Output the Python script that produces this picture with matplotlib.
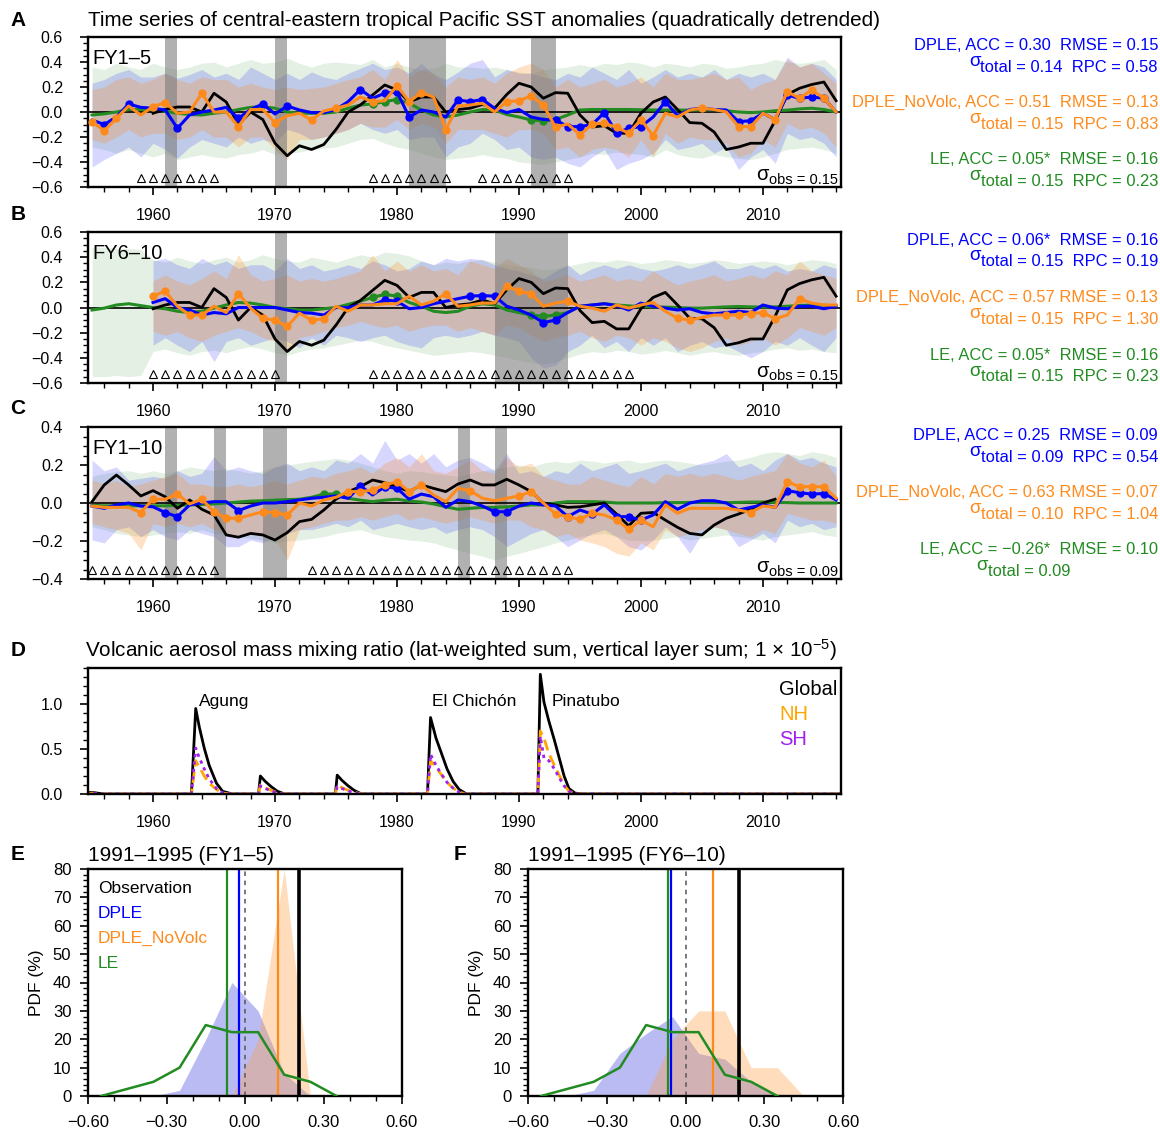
import numpy as np
import matplotlib
matplotlib.use('Agg')
import matplotlib.pyplot as plt
from matplotlib.ticker import MultipleLocator, FuncFormatter

plt.rcParams['font.family'] = ['Liberation Sans', 'DejaVu Sans']
plt.rcParams['mathtext.fontset'] = 'custom'
plt.rcParams['mathtext.rm'] = 'Liberation Sans'
plt.rcParams['mathtext.it'] = 'Liberation Sans:italic'

nan = np.nan
years = np.arange(1955, 2017)

# ---------------- Panel A (FY1-5) ----------------
obs_a = [nan,nan,nan,nan,nan, -0.01,0.02,0.04,0.04,0.0, 0.15,0.08,-0.10,0.0,-0.06,
         -0.25,-0.35,-0.27,-0.30,-0.26, -0.14,0.0,0.056,0.136,0.216, 0.176,0.08,0.12,0.12,0.0,
         0.02,0.03,0.06,0.03,0.14, 0.23,0.20,0.11,0.155,0.15, -0.024,-0.12,-0.11,-0.17,-0.17,
         -0.01,0.08,0.12,0.02,-0.085, -0.09,-0.16,-0.30,-0.28,-0.25, -0.25,-0.07,0.14,0.19,0.22,
         0.24,0.09]
dple_a = [-0.064,-0.10,-0.04,0.064,0.037, 0.03,0.016,-0.13,-0.024,0.0, 0.016,0.037,-0.05,0.02,0.064,
          -0.016,0.048,0.016,-0.005,-0.005, 0.02,0.083,0.18,0.11,0.15, 0.16,-0.04,0.016,0.0,-0.04,
          0.096,0.083,0.10,0.03,-0.005, 0.02,-0.04,-0.06,-0.064,-0.117, -0.117,-0.10,-0.005,-0.17,-0.13,
          -0.117,-0.04,0.083,-0.03,0.02, 0.03,0.02,0.016,-0.077,-0.07, -0.01,-0.06,0.136,0.11,0.12,
          0.11,0.0]
novolc_a = [-0.077,-0.15,-0.05,0.048,-0.024, 0.043,0.075,-0.01,0.0,0.15, 0.0,0.0,-0.117,0.02,0.02,
            -0.085,-0.03,-0.01,-0.064,0.008, 0.03,0.056,0.12,0.083,0.09, 0.21,0.083,0.155,0.12,-0.14,
            0.048,0.056,0.07,0.0,0.083, 0.09,0.128,0.056,-0.123,-0.096, -0.184,-0.096,-0.09,-0.123,-0.17,
            -0.06,-0.19,-0.01,-0.04,0.016, 0.03,0.02,0.0,-0.117,-0.117, -0.01,-0.06,0.163,0.11,0.176,
            0.11,0.0]
le_a = [-0.024,-0.015,0.0,0.02,0.02, 0.02,0.005,-0.01,-0.02,-0.024, -0.01,0.0,0.02,0.037,0.043,
        0.03,0.0,-0.01,-0.01,-0.01, 0.0,0.03,0.056,0.064,0.083, 0.10,0.07,0.016,-0.024,-0.04,
        -0.024,0.0,0.02,0.016,-0.02, -0.04,-0.064,-0.07,-0.06,-0.024, 0.016,0.02,0.02,0.02,0.02,
        0.018,0.016,0.016,0.015,0.015, 0.016,0.018,0.01,0.0,-0.005, 0.0,0.01,0.015,0.025,0.03,
        0.02,0.0]
dple_a_hi = [0.23,0.26,0.31,0.34,0.28, 0.28,0.31,0.27,0.30,0.34, 0.28,0.31,0.26,0.36,0.31,
             0.26,0.31,0.26,0.32,0.28, 0.26,0.31,0.35,0.39,0.34, 0.36,0.31,0.39,0.30,0.26,
             0.32,0.39,0.42,0.28,0.34, 0.31,0.31,0.28,0.26,0.31, 0.28,0.36,0.31,0.26,0.34,
             0.23,0.28,0.34,0.28,0.31, 0.28,0.34,0.26,0.31,0.28, 0.31,0.26,0.44,0.36,0.39, 0.36,0.26]
dple_a_lo = [-0.44,-0.38,-0.33,-0.28,-0.36, -0.25,-0.30,-0.37,-0.28,-0.22, -0.25,-0.28,-0.20,-0.25,-0.22,
             -0.25,-0.14,-0.17,-0.22,-0.20, -0.17,-0.14,-0.09,-0.14,-0.17, -0.14,-0.22,-0.20,-0.20,-0.36,
             -0.28,-0.25,-0.17,-0.22,-0.30, -0.28,-0.36,-0.38,-0.36,-0.41, -0.44,-0.36,-0.30,-0.46,-0.41,
             -0.38,-0.33,-0.22,-0.30,-0.28, -0.25,-0.33,-0.28,-0.46,-0.36, -0.30,-0.41,-0.17,-0.22,-0.20,
             -0.25,-0.36]
novolc_a_hi = [0.18,0.20,0.26,0.28,0.23, 0.26,0.31,0.26,0.23,0.28, 0.26,0.26,0.20,0.23,0.20,
               0.18,0.20,0.18,0.19,0.20, 0.23,0.26,0.28,0.34,0.26, 0.42,0.28,0.34,0.31,0.20,
               0.28,0.26,0.28,0.23,0.31, 0.36,0.39,0.34,0.20,0.26, 0.20,0.23,0.26,0.20,0.23,
               0.28,0.20,0.31,0.26,0.26, 0.28,0.31,0.26,0.28,0.18, 0.23,0.26,0.42,0.36,0.39, 0.31,0.23]
novolc_a_lo = [-0.22,-0.25,-0.20,-0.14,-0.20, -0.17,-0.17,-0.22,-0.20,-0.14, -0.20,-0.20,-0.28,-0.20,-0.20,
               -0.30,-0.38,-0.22,-0.22,-0.20, -0.17,-0.14,-0.09,-0.12,-0.12, -0.06,-0.14,-0.09,-0.12,-0.25,
               -0.14,-0.14,-0.14,-0.17,-0.20, -0.14,-0.14,-0.17,-0.30,-0.28, -0.36,-0.30,-0.28,-0.30,-0.36,
               -0.22,-0.36,-0.17,-0.25,-0.20, -0.22,-0.22,-0.25,-0.36,-0.33, -0.22,-0.28,-0.09,-0.14,-0.12,
               -0.17,-0.28]
le_a_hi = [0.36,0.34,0.39,0.36,0.34, 0.39,0.36,0.34,0.36,0.39, 0.40,0.36,0.39,0.42,0.39,
           0.40,0.43,0.39,0.36,0.39, 0.40,0.39,0.38,0.42,0.36, 0.39,0.36,0.34,0.35,0.39,
           0.36,0.36,0.35,0.36,0.34, 0.32,0.31,0.34,0.35,0.36, 0.38,0.36,0.39,0.38,0.40,
           0.39,0.36,0.39,0.38,0.36, 0.39,0.38,0.35,0.36,0.38, 0.39,0.42,0.40,0.39,0.40, 0.42,0.34]
le_a_lo = [-0.28,-0.30,-0.33,-0.30,-0.33, -0.36,-0.33,-0.38,-0.36,-0.34, -0.36,-0.37,-0.34,-0.33,-0.30,
           -0.34,-0.33,-0.32,-0.30,-0.29, -0.28,-0.25,-0.22,-0.21,-0.25, -0.28,-0.30,-0.33,-0.36,-0.38,
           -0.37,-0.36,-0.34,-0.36,-0.37, -0.40,-0.41,-0.42,-0.40,-0.38, -0.36,-0.33,-0.34,-0.32,-0.33,
           -0.34,-0.36,-0.30,-0.34,-0.36, -0.37,-0.34,-0.36,-0.37,-0.38, -0.36,-0.33,-0.30,-0.29,-0.28,
           -0.30,-0.33]
dple_a_dots = [1956, 1958, 1962, 1967, 1969, 1971, 1977, 1979, 1980, 1981, 1985, 1986, 1987, 1993,
               1994, 1995, 1997, 1998, 1999, 2000, 2002, 2008, 2009, 2012, 2013, 2014, 2015]
novolc_a_dots = [1955, 1956, 1957, 1960, 1961, 1964, 1967, 1970, 1973, 1975, 1978, 1980, 1981, 1982,
                 1984, 1989, 1990, 1991, 1992, 1993, 1995, 1996, 1997, 1998, 1999, 2000, 2001, 2005,
                 2008, 2009, 2011, 2012, 2013, 2014, 2015]
le_a_dots = [1978, 1979, 1980, 1991, 1992, 1993]
gray_a = [(1961, 1962), (1970, 1971), (1981, 1984), (1991, 1993)]
tri_a = list(range(1959, 1966)) + list(range(1978, 1985)) + list(range(1987, 1995))

# ---------------- Panel B (FY6-10) ----------------
obs_b = obs_a
dple_b = [nan,nan,nan,nan,nan, 0.04,0.07,0.0,-0.02,-0.06, -0.04,-0.05,0.0,0.0,0.0,
          0.0,-0.02,-0.04,-0.045,-0.06, 0.0,0.0,0.02,0.02,0.06, 0.05,-0.01,0.0,0.03,0.05,
          0.07,0.09,0.095,0.09,0.01, -0.02,-0.06,-0.12,-0.10,-0.04, 0.01,0.02,0.03,0.015,-0.02,
          0.035,0.01,-0.005,-0.02,-0.01, -0.04,-0.05,-0.04,-0.03,-0.04, 0.02,-0.005,-0.01,0.01,0.01,
          -0.01,0.01]
novolc_b = [nan,nan,nan,nan,nan, 0.09,0.13,0.01,-0.06,-0.06, 0.01,-0.04,0.11,-0.005,-0.085,
            -0.10,-0.15,-0.045,-0.10,-0.09, 0.01,-0.03,0.02,0.02,0.03, 0.03,0.09,0.02,0.05,0.11,
            0.01,0.02,0.035,0.035,0.17, 0.13,0.11,0.01,0.035,0.05, 0.01,-0.005,-0.03,0.02,-0.005,
            0.02,0.04,-0.03,-0.085,-0.10, -0.08,-0.06,-0.06,-0.06,-0.05, -0.04,-0.09,-0.06,0.07,0.035,
            0.02,0.02]
le_b = [-0.02,-0.005,0.02,0.03,0.015, 0.0,-0.01,-0.03,-0.04,-0.03, -0.005,0.02,0.04,0.035,0.02,
        0.0,-0.01,-0.02,-0.02,-0.01, 0.0,0.025,0.05,0.08,0.105, 0.09,0.04,0.01,-0.03,-0.04,
        -0.03,0.01,0.03,0.02,-0.02, -0.04,-0.06,-0.07,-0.06,-0.04, 0.01,0.02,0.03,0.02,0.013,
        0.008,0.005,0.003,0.0,-0.005, -0.005,0.0,0.005,0.008,0.005, 0.003,0.005,0.01,0.016,0.02,
        0.018,0.01]
dple_b_hi = [nan,nan,nan,nan,nan, 0.37,0.39,0.34,0.31,0.39, 0.34,0.37,0.31,0.34,0.34,
             0.29,0.39,0.31,0.34,0.29, 0.31,0.34,0.31,0.37,0.34, 0.29,0.31,0.37,0.34,0.39,
             0.37,0.39,0.38,0.34,0.31, 0.29,0.26,0.23,0.29,0.34, 0.26,0.31,0.34,0.31,0.34,
             0.31,0.29,0.31,0.34,0.31, 0.34,0.37,0.31,0.31,0.34, 0.31,0.34,0.29,0.31,0.29, 0.34,0.31]
dple_b_lo = [nan,nan,nan,nan,nan, -0.30,-0.24,-0.30,-0.35,-0.27, -0.43,-0.27,-0.24,-0.30,-0.27,
             -0.24,-0.27,-0.32,-0.24,-0.30, -0.22,-0.24,-0.27,-0.24,-0.22, -0.27,-0.30,-0.32,-0.24,-0.22,
             -0.24,-0.22,-0.19,-0.22,-0.24, -0.27,-0.40,-0.48,-0.46,-0.35, -0.30,-0.22,-0.32,-0.27,-0.35,
             -0.24,-0.30,-0.24,-0.35,-0.30, -0.27,-0.32,-0.30,-0.35,-0.40, -0.35,-0.27,-0.30,-0.24,-0.30,
             -0.35,-0.24]
novolc_b_hi = [nan,nan,nan,nan,nan, 0.21,0.26,0.21,0.18,0.23, 0.29,0.23,0.42,0.26,0.21,
               0.23,0.26,0.21,0.23,0.21, 0.23,0.26,0.29,0.42,0.29, 0.37,0.29,0.34,0.29,0.31,
               0.26,0.37,0.34,0.31,0.39, 0.34,0.29,0.21,0.23,0.26, 0.21,0.23,0.26,0.21,0.23,
               0.21,0.29,0.23,0.18,0.21, 0.23,0.26,0.21,0.23,0.26, 0.23,0.29,0.26,0.37,0.29, 0.26,0.23]
novolc_b_lo = [nan,nan,nan,nan,nan, -0.19,-0.22,-0.19,-0.24,-0.27, -0.22,-0.19,-0.16,-0.19,-0.24,
               -0.27,-0.35,-0.24,-0.22,-0.19, -0.16,-0.14,-0.11,-0.14,-0.16, -0.14,-0.19,-0.16,-0.14,-0.14,
               -0.19,-0.16,-0.19,-0.22,-0.14, -0.16,-0.22,-0.27,-0.24,-0.22, -0.19,-0.24,-0.27,-0.22,-0.24,
               -0.30,-0.24,-0.27,-0.32,-0.35, -0.32,-0.27,-0.24,-0.30,-0.27, -0.24,-0.30,-0.24,-0.16,-0.19,
               -0.22,-0.16]
le_b_hi = [0.48,0.48,0.47,0.47,0.46, 0.38,0.36,0.40,0.37,0.35, 0.38,0.40,0.36,0.38,0.42,
           0.39,0.37,0.36,0.40,0.38, 0.36,0.39,0.42,0.40,0.44, 0.43,0.41,0.37,0.34,0.36,
           0.35,0.37,0.38,0.36,0.34, 0.33,0.32,0.30,0.31,0.33, 0.35,0.37,0.36,0.38,0.37,
           0.35,0.36,0.38,0.37,0.35, 0.36,0.38,0.37,0.35,0.36, 0.37,0.36,0.34,0.36,0.38, 0.37,0.35]
le_b_lo = [-0.55,-0.55,-0.54,-0.55,-0.54, -0.35,-0.33,-0.36,-0.38,-0.35, -0.34,-0.36,-0.33,-0.31,-0.33,
           -0.36,-0.38,-0.35,-0.33,-0.32, -0.30,-0.28,-0.26,-0.27,-0.30, -0.32,-0.34,-0.36,-0.38,-0.37,
           -0.36,-0.35,-0.36,-0.38,-0.40, -0.42,-0.44,-0.45,-0.43,-0.40, -0.37,-0.35,-0.36,-0.34,-0.35,
           -0.37,-0.36,-0.34,-0.36,-0.38, -0.36,-0.35,-0.37,-0.38,-0.36, -0.35,-0.33,-0.32,-0.34,-0.33,
           -0.35,-0.36]
dple_b_dots = [1979, 1980, 1986, 1987, 1988, 1992, 1993]
novolc_b_dots = [1960, 1961, 1963, 1964, 1967, 1969, 1970, 1971, 1973, 1974, 1984, 1989, 1990, 1991,
                 1994, 2003, 2004, 2007, 2008, 2009, 2010, 2011, 2013]
le_b_dots = [1978, 1979, 1980, 1991, 1992, 1993]
gray_b = [(1970, 1971), (1988, 1994)]
tri_b = list(range(1960, 1971)) + list(range(1978, 2000))

# ---------------- Panel C (FY1-10) ----------------
obs_c = [0.007,0.095,0.147,0.095,0.037, 0.065,0.033,-0.028,0.016,-0.033, -0.063,-0.168,-0.18,-0.16,-0.168,
         -0.195,-0.156,-0.098,-0.086,-0.037, 0.02,0.06,0.086,0.121,0.107, 0.086,0.06,0.095,0.077,0.06,
         0.10,0.121,0.095,0.095,0.125, 0.095,0.06,0.0,-0.01,-0.023, -0.02,-0.01,0.0,-0.058,-0.12,
         -0.054,-0.05,-0.09,-0.128,-0.16, -0.168,-0.116,-0.08,-0.058,-0.033, 0.0,0.02,nan,nan,nan,
         nan,nan]
dple_c = [-0.016,-0.028,-0.01,0.0,-0.016, -0.02,-0.05,-0.072,-0.01,0.0, 0.007,0.007,-0.04,-0.016,0.0,
          0.0,0.007,0.016,0.025,0.03, 0.037,0.025,0.09,0.042,0.086, 0.077,0.02,0.047,0.033,-0.023,
          0.016,0.007,-0.016,-0.046,-0.046, -0.016,0.0,-0.01,-0.016,-0.072, -0.037,-0.058,-0.01,-0.072,-0.072,
          -0.09,-0.063,0.007,-0.033,0.0, 0.012,0.012,0.0,-0.037,-0.023, -0.01,-0.023,0.065,0.054,0.047,
          0.05,0.016]
novolc_c = [-0.016,-0.023,-0.023,-0.023,-0.05, 0.02,0.02,0.047,-0.005,0.02, -0.046,-0.08,-0.08,-0.063,-0.046,
            -0.05,-0.063,0.0,-0.016,0.016, 0.03,0.06,0.06,0.068,0.095, 0.112,0.06,0.095,0.042,0.007,
            0.077,0.065,0.025,0.012,0.025, 0.037,0.06,0.0,-0.058,-0.072, -0.086,-0.054,-0.063,-0.09,-0.139,
            -0.09,-0.125,-0.01,-0.054,-0.028, -0.028,-0.028,-0.028,-0.037,-0.05, -0.016,-0.023,0.112,0.086,0.086,
            0.086,0.025]
le_c = [-0.012,-0.015,-0.015,-0.015,-0.015, -0.015,-0.015,-0.012,-0.01,-0.008, -0.005,0.0,0.005,0.01,0.012,
        0.015,0.018,0.02,0.03,0.047, 0.047,0.025,0.015,0.007,0.015, 0.02,0.01,0.005,-0.005,-0.02,
        -0.033,-0.028,-0.023,-0.023,-0.02, -0.016,-0.01,-0.01,0.0,0.007, 0.007,0.007,0.005,0.0,0.0,
        0.0,0.0,0.002,0.002,0.003, 0.003,0.002,0.002,0.003,0.005, 0.005,0.003,0.002,0.0,0.0,
        0.0,0.0]
dple_c_hi = [0.226,0.17,0.19,0.12,0.13, 0.14,0.13,0.17,0.14,0.156, 0.244,0.17,0.19,0.17,0.156,
             0.19,0.21,0.17,0.19,0.17, 0.226,0.21,0.26,0.21,0.33, 0.226,0.26,0.21,0.26,0.19,
             0.226,0.24,0.21,0.17,0.26, 0.156,0.17,0.14,0.17,0.156, 0.21,0.17,0.19,0.21,0.156,
             0.17,0.19,0.21,0.17,0.19, 0.21,0.226,0.26,0.19,0.21, 0.17,0.226,0.26,0.226,0.24, 0.21,0.19]
dple_c_lo = [-0.195,-0.21,-0.14,-0.125,-0.177, -0.14,-0.177,-0.195,-0.14,-0.16, -0.177,-0.23,-0.23,-0.195,-0.21,
             -0.177,-0.16,-0.14,-0.14,-0.125, -0.107,-0.125,-0.09,-0.14,-0.125, -0.107,-0.125,-0.14,-0.125,-0.16,
             -0.14,-0.125,-0.14,-0.177,-0.23, -0.195,-0.16,-0.14,-0.177,-0.23, -0.195,-0.16,-0.14,-0.177,-0.23,
             -0.247,-0.195,-0.125,-0.177,-0.265, -0.16,-0.125,-0.14,-0.23,-0.195, -0.16,-0.21,-0.09,-0.125,-0.107,
             -0.14,-0.125]
novolc_c_hi = [0.12,0.10,0.12,0.086,0.10, 0.12,0.14,0.156,0.10,0.10, 0.086,0.086,0.10,0.086,0.10,
               0.12,0.10,0.12,0.14,0.13, 0.156,0.17,0.19,0.156,0.21, 0.24,0.19,0.26,0.17,0.156,
               0.19,0.226,0.17,0.156,0.24, 0.19,0.21,0.14,0.12,0.10, 0.10,0.14,0.12,0.10,0.086,
               0.14,0.10,0.156,0.14,0.156, 0.14,0.156,0.14,0.12,0.14, 0.156,0.17,0.26,0.21,0.19, 0.226,0.14]
novolc_c_lo = [-0.107,-0.125,-0.14,-0.16,-0.247, -0.107,-0.125,-0.107,-0.125,-0.107, -0.14,-0.16,-0.177,-0.16,-0.177,
               -0.195,-0.30,-0.14,-0.125,-0.107, -0.09,-0.09,-0.072,-0.09,-0.072, -0.054,-0.09,-0.072,-0.09,-0.107,
               -0.09,-0.072,-0.09,-0.107,-0.09, -0.09,-0.125,-0.14,-0.177,-0.16, -0.195,-0.21,-0.23,-0.265,-0.28,
               -0.21,-0.247,-0.14,-0.177,-0.16, -0.14,-0.125,-0.14,-0.16,-0.177, -0.14,-0.16,-0.054,-0.072,-0.09,
               -0.09,-0.107]
le_c_hi = [0.14,0.156,0.165,0.17,0.156, 0.17,0.156,0.17,0.19,0.18, 0.17,0.18,0.17,0.156,0.17,
           0.19,0.20,0.21,0.22,0.226, 0.235,0.226,0.21,0.19,0.17, 0.156,0.17,0.165,0.156,0.147,
           0.14,0.156,0.17,0.18,0.19, 0.20,0.19,0.21,0.22,0.21, 0.226,0.22,0.21,0.22,0.226,
           0.21,0.22,0.226,0.22,0.21, 0.20,0.21,0.22,0.226,0.24, 0.26,0.27,0.26,0.25,0.27, 0.26,0.24]
le_c_lo = [-0.125,-0.14,-0.16,-0.168,-0.177, -0.168,-0.16,-0.15,-0.16,-0.14, -0.16,-0.168,-0.177,-0.186,-0.195,
           -0.21,-0.20,-0.195,-0.186,-0.177, -0.16,-0.15,-0.14,-0.16,-0.177, -0.186,-0.195,-0.20,-0.21,-0.23,
           -0.247,-0.265,-0.28,-0.30,-0.28, -0.265,-0.247,-0.23,-0.21,-0.195, -0.177,-0.168,-0.16,-0.177,-0.195,
           -0.20,-0.195,-0.186,-0.177,-0.195, -0.186,-0.177,-0.168,-0.177,-0.186, -0.195,-0.177,-0.168,-0.16,-0.15,
           -0.168,-0.177]
dple_c_dots = [1961, 1962, 1967, 1977, 1979, 1980, 1988, 1989, 1994, 1996, 1998, 1999, 2000,
               2012, 2013, 2014, 2015]
novolc_c_dots = [1959, 1960, 1962, 1964, 1965, 1966, 1967, 1969, 1970, 1971, 1976, 1977, 1978, 1979,
                 1980, 1981, 1982, 1986, 1990, 1991, 1993, 1994, 1995, 1996, 1998, 1999, 2000, 2009,
                 2012, 2013, 2014, 2015]
le_c_dots = [1974, 1975]
gray_c = [(1961, 1962), (1965, 1966), (1969, 1971), (1985, 1986), (1988, 1989)]
tri_c = list(range(1955, 1966)) + list(range(1973, 1995))

# stats text per panel
stats_a = [("DPLE, ACC = 0.30  RMSE = 0.15", "total = 0.14  RPC = 0.58"),
           ("DPLE_NoVolc, ACC = 0.51  RMSE = 0.13", "total = 0.15  RPC = 0.83"),
           ("LE, ACC = 0.05*  RMSE = 0.16", "total = 0.15  RPC = 0.23")]
stats_b = [("DPLE, ACC = 0.06*  RMSE = 0.16", "total = 0.15  RPC = 0.19"),
           ("DPLE_NoVolc, ACC = 0.57 RMSE = 0.13", "total = 0.15  RPC = 1.30"),
           ("LE, ACC = 0.05*  RMSE = 0.16", "total = 0.15  RPC = 0.23")]
stats_c = [("DPLE, ACC = 0.25  RMSE = 0.09", "total = 0.09  RPC = 0.54"),
           ("DPLE_NoVolc, ACC = 0.63 RMSE = 0.07", "total = 0.10  RPC = 1.04"),
           ("LE, ACC = \u22120.26*  RMSE = 0.10", "total = 0.09")]
sigma_obs = ["0.15", "0.15", "0.09"]

# ---------------- Panel D (volcanic aerosol) ----------------
vol_t = [1954.5, 1955.2, 1955.9,
         1963.15, 1963.5, 1963.8, 1964.2, 1964.6, 1965.2, 1965.7, 1966.5,
         1968.65, 1968.8, 1969.2, 1969.7, 1970.2, 1970.8,
         1974.95, 1975.1, 1975.5, 1976.0, 1976.5, 1977.1,
         1982.5, 1982.75, 1983.2, 1983.6, 1984.1, 1984.6, 1985.1, 1985.7,
         1991.55, 1991.75, 1992.05, 1992.45, 1992.9, 1993.3, 1993.7, 1994.1, 1994.6, 1995.3,
         2016.5]
vol_global = [0.02, 0.015, 0.0,
              0.0, 0.95, 0.74, 0.51, 0.32, 0.12, 0.03, 0.0,
              0.0, 0.20, 0.14, 0.08, 0.03, 0.0,
              0.0, 0.21, 0.15, 0.09, 0.04, 0.0,
              0.0, 0.85, 0.62, 0.47, 0.28, 0.14, 0.05, 0.0,
              0.0, 1.33, 1.02, 0.81, 0.60, 0.40, 0.20, 0.06, 0.01, 0.0,
              0.0]
vol_nh = [0.01, 0.008, 0.0,
          0.0, 0.37, 0.30, 0.20, 0.12, 0.05, 0.01, 0.0,
          0.0, 0.10, 0.07, 0.04, 0.015, 0.0,
          0.0, 0.10, 0.07, 0.04, 0.02, 0.0,
          0.0, 0.37, 0.30, 0.22, 0.13, 0.065, 0.02, 0.0,
          0.0, 0.70, 0.62, 0.45, 0.32, 0.21, 0.10, 0.03, 0.005, 0.0,
          0.0]
vol_sh = [0.01, 0.008, 0.0,
          0.0, 0.51, 0.40, 0.28, 0.17, 0.06, 0.015, 0.0,
          0.0, 0.09, 0.06, 0.035, 0.012, 0.0,
          0.0, 0.08, 0.06, 0.035, 0.015, 0.0,
          0.0, 0.44, 0.32, 0.23, 0.13, 0.065, 0.02, 0.0,
          0.0, 0.64, 0.40, 0.37, 0.28, 0.18, 0.09, 0.03, 0.005, 0.0,
          0.0]
eruptions = ["Agung", "El Chich\u00f3n", "Pinatubo"]
eruption_x = [1963.8, 1982.9, 1992.7]

# ---------------- Panels E, F (PDFs 1991-1995) ----------------
pdf_bins = [-0.55, -0.45, -0.35, -0.25, -0.15, -0.05, 0.05, 0.15, 0.25, 0.35, 0.45]
pdf_e_dple = [nan, nan, 0, 2, 20, 40, 30, 8, 0, nan, nan]
pdf_e_novolc = [nan, nan, nan, nan, nan, 0, 20, 80, 0, nan, nan]
pdf_f_dple = [nan, 0, 2, 15, 22, 28, 15, 13, 5, 0, nan]
pdf_f_novolc = [nan, nan, nan, nan, 0, 20, 30, 30, 10, 10, 0]
pdf_le = [0, 2.5, 5, 10, 25, 22.5, 22.5, 7.5, 5, 0, nan]
mean_e = {"LE": -0.068, "DPLE": -0.023, "DPLE_NoVolc": 0.126, "Observation": 0.206}
mean_f = {"LE": -0.066, "DPLE": -0.057, "DPLE_NoVolc": 0.105, "Observation": 0.203}

# ---------------- Styling ----------------
BLUE = '#0000FF'
ORANGE = '#FF8A1C'
GREEN = '#228B22'
NHC = '#FFA500'
SHC = '#A020F0'

W, H = 1160, 1131
fig = plt.figure(figsize=(W / 100, H / 100), dpi=100)
renderer = fig.canvas.get_renderer()


def fx(px):
    return px / W


def fy(py):
    return 1 - py / H


def add_ax(l, t, r, b):
    return fig.add_axes([fx(l), fy(b), (r - l) / W, (b - t) / H])


def fmt(dec):
    def f(v, p):
        if abs(v) < 1e-9:
            v = 0.0
        return f'{v:.{dec}f}'.replace('-', '\u2212')
    return FuncFormatter(f)


def style(ax, labelsize=11, ypad=12, xpad=8):
    for s in ax.spines.values():
        s.set_linewidth(1.7)
    ax.tick_params(which='both', direction='out', top=False, right=False, width=1.2)
    ax.tick_params(which='major', length=6)
    ax.tick_params(which='minor', length=3.5, width=1.0)
    ax.tick_params(axis='y', which='major', pad=ypad, labelsize=labelsize)
    ax.tick_params(axis='x', which='major', pad=xpad, labelsize=labelsize)


def sigma_text(x_right, y, rest, color, size, sig_size=None, raise_px=6):
    t = fig.text(fx(x_right), fy(y), rest, ha='right', va='center', color=color, fontsize=size)
    bb = t.get_window_extent(renderer)
    fig.text(bb.x0 / W, fy(y - raise_px), '\u03c3', ha='right', va='center', color=color,
             fontsize=sig_size or size)


def idx(yrs):
    return [int(np.where(years == y)[0][0]) for y in yrs]


def ts_panel(ax, obs, dple, novolc, le, dlo, dhi, olo, ohi, glo, ghi,
             ddots, odots, gdots, gray, tri, ylim, fylabel):
    ax.fill_between(years, glo, ghi, color=GREEN, alpha=0.12, lw=0, zorder=1)
    ax.fill_between(years, dlo, dhi, color=BLUE, alpha=0.16, lw=0, zorder=1.1)
    ax.fill_between(years, olo, ohi, color=ORANGE, alpha=0.25, lw=0, zorder=1.2)
    for a, b in gray:
        ax.axvspan(a, b, color='#7a7a7a', alpha=0.58, lw=0, zorder=1.5)
    ax.axhline(0, color='k', lw=1.2, zorder=2)
    ax.plot(years, le, color=GREEN, lw=2.2, marker='o', ms=5, markevery=idx(gdots), zorder=3)
    ax.plot(years, obs, color='k', lw=2.0, zorder=3.5)
    ax.plot(years, dple, color=BLUE, lw=2.2, marker='o', ms=5, markevery=idx(ddots), zorder=4)
    ax.plot(years, novolc, color=ORANGE, lw=2.2, marker='o', ms=5, markevery=idx(odots), zorder=4.5)
    ax.plot(tri, [0.06] * len(tri), ls='none', marker='^', mfc='none', mec='k', ms=5.8, mew=0.8,
            transform=ax.get_xaxis_transform(), zorder=5, clip_on=True)
    ax.set_xlim(1954.67, 2016.4)
    ax.set_ylim(*ylim)
    ax.xaxis.set_major_locator(MultipleLocator(10))
    ax.xaxis.set_minor_locator(MultipleLocator(2))
    ax.yaxis.set_major_locator(MultipleLocator(0.2))
    ax.yaxis.set_minor_locator(MultipleLocator(0.05))
    ax.yaxis.set_major_formatter(fmt(1))
    style(ax, labelsize=11.5, ypad=12, xpad=9)
    ax.text(0.006, 0.86, fylabel, transform=ax.transAxes, fontsize=14.5, va='center', ha='left')


axA = add_ax(88, 37, 841, 187)
axB = add_ax(88, 232, 841, 383)
axC = add_ax(88, 427, 841, 579)
axD = add_ax(88, 668, 841, 794)
axE = add_ax(88, 869, 402, 1096)
axF = add_ax(528, 869, 843, 1096)

ts_panel(axA, obs_a, dple_a, novolc_a, le_a, dple_a_lo, dple_a_hi, novolc_a_lo, novolc_a_hi,
         le_a_lo, le_a_hi, dple_a_dots, novolc_a_dots, le_a_dots, gray_a, tri_a, (-0.6, 0.6), 'FY1\u20135')
ts_panel(axB, obs_b, dple_b, novolc_b, le_b, dple_b_lo, dple_b_hi, novolc_b_lo, novolc_b_hi,
         le_b_lo, le_b_hi, dple_b_dots, novolc_b_dots, le_b_dots, gray_b, tri_b, (-0.6, 0.6), 'FY6\u201310')
ts_panel(axC, obs_c, dple_c, novolc_c, le_c, dple_c_lo, dple_c_hi, novolc_c_lo, novolc_c_hi,
         le_c_lo, le_c_hi, dple_c_dots, novolc_c_dots, le_c_dots, gray_c, tri_c, (-0.4, 0.4), 'FY1\u201310')

# sigma_obs labels (bottom right of panels)
for (top, bot), s in zip([(37, 187), (232, 383), (427, 579)], sigma_obs):
    sigma_text(838, bot - 7, 'obs = ' + s, 'k', 10.5, sig_size=14.5, raise_px=5)

# stats text at right
colors3 = [BLUE, ORANGE, GREEN]
for y0, stats in zip([45, 240, 435], [stats_a, stats_b, stats_c]):
    for k, ((l1, l2), c) in enumerate(zip(stats, colors3)):
        yy = y0 + k * 57.5
        fig.text(fx(1158), fy(yy), l1, ha='right', va='center', color=c, fontsize=11.9)
        xr = 1158 if not (stats is stats_c and k == 2) else 1070
        sigma_text(xr, yy + 22, l2, c, 11.9, sig_size=13.5, raise_px=6)

# panel titles and labels
fig.text(fx(88), fy(20), 'Time series of central-eastern tropical Pacific SST anomalies (quadratically detrended)',
         ha='left', va='center', fontsize=14.9)
for lab, ypx, xpx in [('A', 20, 18), ('B', 215, 18), ('C', 408, 18), ('D', 650, 18), ('E', 855, 18), ('F', 855, 460)]:
    fig.text(fx(xpx), fy(ypx), lab, ha='center', va='center', fontsize=15, fontweight='bold')

# ---------------- Panel D ----------------
axD.plot(vol_t, vol_global, color='k', lw=2.0, zorder=2.0)
axD.plot(vol_t, vol_nh, color=NHC, lw=2.0, ls=(0, (4, 2)), zorder=2.1)
axD.plot(vol_t, vol_sh, color=SHC, lw=2.0, ls=(0, (1.2, 1.5)), zorder=2.2)
axD.set_xlim(1954.67, 2016.4)
axD.set_ylim(0, 1.4)
axD.xaxis.set_major_locator(MultipleLocator(10))
axD.xaxis.set_minor_locator(MultipleLocator(2))
axD.yaxis.set_major_locator(MultipleLocator(0.5))
axD.yaxis.set_minor_locator(MultipleLocator(0.1))
axD.yaxis.set_major_formatter(fmt(1))
style(axD, labelsize=11.5, ypad=12, xpad=9)
for name, xv in zip(eruptions, eruption_x):
    axD.text(xv, 1.03, name, fontsize=12.5, ha='left', va='center')
for k, (name, c) in enumerate(zip(['Global', 'NH', 'SH'], ['k', NHC, SHC])):
    axD.text(0.918, 0.83 - k * 0.2, name, color=c, fontsize=14.5, transform=axD.transAxes,
             ha='left', va='center')
fig.text(fx(85), fy(650), r'Volcanic aerosol mass mixing ratio (lat-weighted sum, vertical layer sum; 1 $\times$ 10$^{-5}$)',
         ha='left', va='center', fontsize=14.9)


# ---------------- Panels E, F ----------------
def pdf_panel(ax, dple_pdf, novolc_pdf, means, title):
    b = np.array(pdf_bins)
    d = np.array(dple_pdf, float)
    o = np.array(novolc_pdf, float)
    ax.fill_between(b, 0, d, where=~np.isnan(d), color='#6a6ae8', alpha=0.45, lw=0, zorder=1)
    ax.fill_between(b, 0, o, where=~np.isnan(o), color='#FFA040', alpha=0.35, lw=0, zorder=1.2)
    ax.plot(b, pdf_le, color=GREEN, lw=1.8, zorder=3)
    ax.axvline(0, color='#555555', lw=1.1, ls=(0, (3, 3)), zorder=2)
    ax.axvline(means['LE'], color=GREEN, lw=1.6, zorder=2.5)
    ax.axvline(means['DPLE'], color=BLUE, lw=1.6, zorder=2.5)
    ax.axvline(means['DPLE_NoVolc'], color=ORANGE, lw=1.6, zorder=2.5)
    ax.axvline(means['Observation'], color='k', lw=2.6, zorder=2.6)
    ax.set_xlim(-0.6, 0.6)
    ax.set_ylim(0, 80)
    ax.xaxis.set_major_locator(MultipleLocator(0.3))
    ax.xaxis.set_minor_locator(MultipleLocator(0.1))
    ax.yaxis.set_major_locator(MultipleLocator(10))
    ax.yaxis.set_minor_locator(MultipleLocator(2))
    ax.xaxis.set_major_formatter(fmt(2))
    style(ax, labelsize=12, ypad=6, xpad=8)
    ax.set_ylabel('PDF (%)', fontsize=12.5, labelpad=6)
    ax.text(0.0, 1.06, title, transform=ax.transAxes, fontsize=15, ha='left', va='center')


pdf_panel(axE, pdf_e_dple, pdf_e_novolc, mean_e, '1991\u20131995 (FY1\u20135)')
pdf_panel(axF, pdf_f_dple, pdf_f_novolc, mean_f, '1991\u20131995 (FY6\u201310)')
for k, (name, c) in enumerate(zip(['Observation', 'DPLE', 'DPLE_NoVolc', 'LE'], ['k', BLUE, ORANGE, GREEN])):
    axE.text(0.032, 0.912 - k * 0.11, name, color=c, fontsize=12.5, transform=axE.transAxes,
             ha='left', va='center')

fig.savefig('out.png', dpi=100, facecolor='white')
